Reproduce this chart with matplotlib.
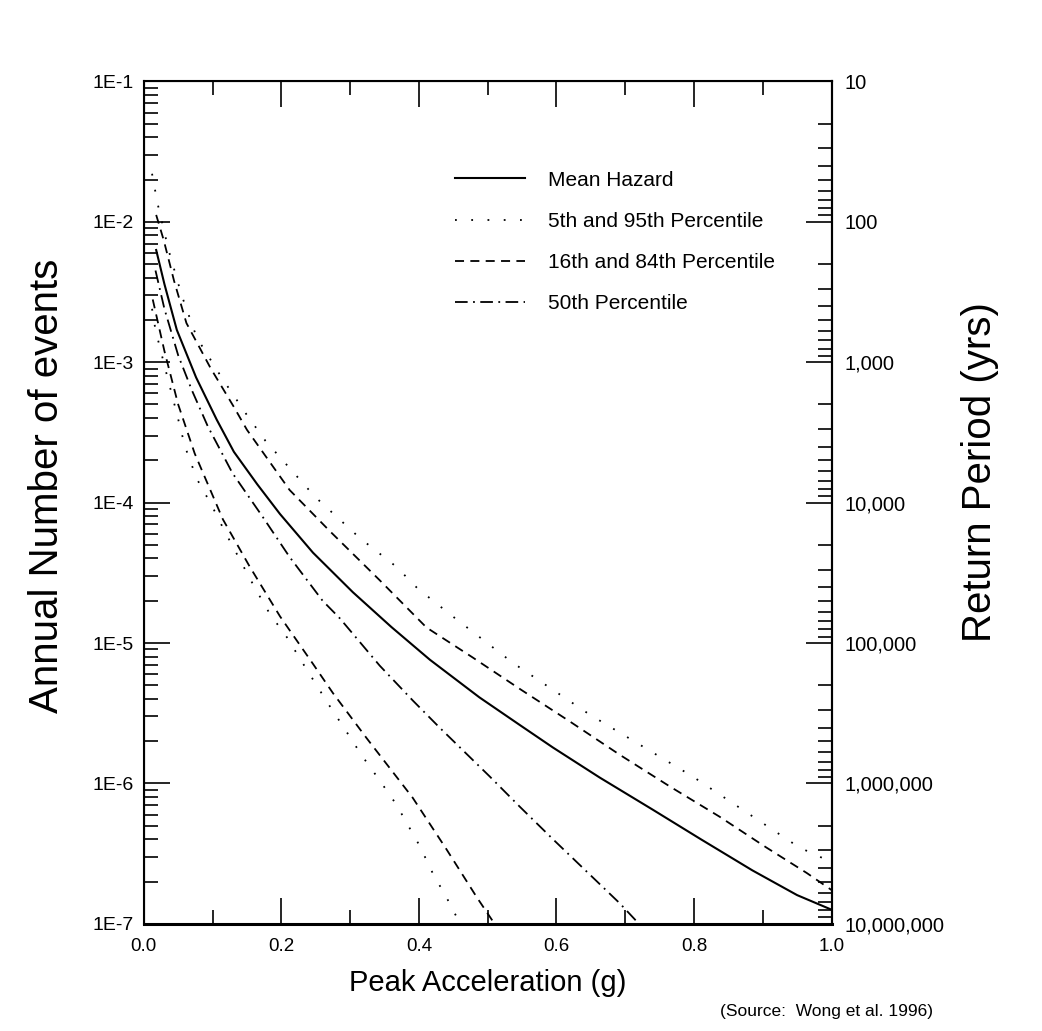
"""
Seismic hazard curves - mean and percentile annual exceedance
"""

import numpy as np
import matplotlib
matplotlib.use("Agg")
import matplotlib.pyplot as plt
from matplotlib.ticker import FixedLocator, FixedFormatter, LogLocator, NullFormatter

plt.rcParams["font.family"] = ["Liberation Sans", "DejaVu Sans"]

# ---------------------------------------
# Data
# ---------------------------------------

mean_x = [0.018, 0.030, 0.048, 0.076, 0.106, 0.131, 0.165, 0.198, 0.246, 0.304,
          0.360, 0.416, 0.488, 0.547, 0.595, 0.663, 0.740, 0.810, 0.885, 0.950, 1.000]
mean_y = [6.3e-3, 3.6e-3, 1.7e-3, 7.8e-4, 3.9e-4, 2.3e-4, 1.35e-4, 8.3e-5, 4.4e-5, 2.3e-5,
          1.3e-5, 7.6e-6, 4.1e-6, 2.6e-6, 1.8e-6, 1.1e-6, 6.5e-7, 4.0e-7, 2.4e-7, 1.6e-7, 1.26e-7]

p95_x = [0.012, 0.020, 0.026, 0.036, 0.055, 0.077, 0.113, 0.150, 0.177, 0.249,
         0.314, 0.367, 0.398, 0.449, 0.537, 0.648, 0.798, 0.953, 1.000]
p95_y = [2.2e-2, 1.35e-2, 1.02e-2, 6.3e-3, 3.0e-3, 1.5e-3, 7.8e-4, 4.2e-4, 2.75e-4, 1.1e-4,
         5.6e-5, 3.5e-5, 2.45e-5, 1.55e-5, 7.2e-6, 3.1e-6, 1.12e-6, 3.5e-7, 2.75e-7]

p84_x = [0.018, 0.029, 0.044, 0.062, 0.097, 0.131, 0.150, 0.212, 0.270, 0.343,
         0.411, 0.478, 0.547, 0.620, 0.692, 0.765, 0.837, 0.905, 0.964, 1.000]
p84_y = [1.12e-2, 7.4e-3, 3.8e-3, 1.9e-3, 9.1e-4, 4.8e-4, 3.3e-4, 1.23e-4, 6.3e-5, 2.8e-5,
         1.29e-5, 7.9e-6, 4.7e-6, 2.75e-6, 1.6e-6, 9.5e-7, 5.8e-7, 3.5e-7, 2.3e-7, 1.74e-7]

p50_x = [0.017, 0.030, 0.050, 0.070, 0.093, 0.129, 0.173, 0.212, 0.260, 0.285,
         0.343, 0.391, 0.430, 0.503, 0.547, 0.595, 0.692, 0.720]
p50_y = [4.5e-3, 2.4e-3, 1.12e-3, 6.3e-4, 3.5e-4, 1.62e-4, 7.9e-5, 4.1e-5, 2.0e-5, 1.5e-5,
         6.9e-6, 3.9e-6, 2.5e-6, 1.12e-6, 6.8e-7, 4.0e-7, 1.4e-7, 1.0e-7]

p16_x = [0.013, 0.030, 0.050, 0.074, 0.115, 0.154, 0.198, 0.246, 0.275, 0.324,
         0.391, 0.440, 0.484, 0.510]
p16_y = [2.8e-3, 1.2e-3, 5.0e-4, 2.24e-4, 7.6e-5, 3.5e-5, 1.55e-5, 7.1e-6, 4.4e-6, 2.1e-6,
         7.9e-7, 3.4e-7, 1.55e-7, 1.0e-7]

p5_x = [0.012, 0.017, 0.033, 0.047, 0.060, 0.077, 0.099, 0.118, 0.140, 0.161, 0.183,
        0.208, 0.231, 0.268, 0.292, 0.317, 0.343, 0.367, 0.401, 0.420, 0.442, 0.460]
p5_y = [2.4e-3, 1.7e-3, 8.3e-4, 4.5e-4, 2.5e-4, 1.48e-4, 9.5e-5, 6.2e-5, 3.9e-5, 2.5e-5, 1.62e-5,
        1.1e-5, 7.2e-6, 3.7e-6, 2.45e-6, 1.58e-6, 1.05e-6, 7.1e-7, 3.6e-7, 2.3e-7, 1.48e-7, 1.0e-7]

left_ticks = [1e-7, 1e-6, 1e-5, 1e-4, 1e-3, 1e-2, 1e-1]
left_labels = ["1E-7", "1E-6", "1E-5", "1E-4", "1E-3", "1E-2", "1E-1"]

right_ticks = [10, 100, 1000, 10000, 100000, 1000000, 10000000]
right_labels = ["10", "100", "1,000", "10,000", "100,000", "1,000,000", "10,000,000"]

x_ticks = [0.0, 0.2, 0.4, 0.6, 0.8, 1.0]
x_labels = ["0.0", "0.2", "0.4", "0.6", "0.8", "1.0"]

# ---------------------------------------
# Plot
# ---------------------------------------

fig = plt.figure(figsize=(10.42, 10.31), dpi=100)
ax = fig.add_axes([0.138, 0.104, 0.660, 0.817])

lw = 1.3
dot = (1, 8)
dash = (5, 3.5)
dashdot = (7, 3, 1, 3)

ax.plot(mean_x, mean_y, color="black", lw=1.5, label="Mean Hazard")
ax.plot(p95_x, p95_y, color="black", lw=lw, dashes=dot, label="5th and 95th Percentile")
ax.plot(p5_x, p5_y, color="black", lw=lw, dashes=dot)
ax.plot(p84_x, p84_y, color="black", lw=lw, dashes=dash, label="16th and 84th Percentile")
ax.plot(p16_x, p16_y, color="black", lw=lw, dashes=dash)
ax.plot(p50_x, p50_y, color="black", lw=lw, dashes=dashdot, label="50th Percentile")

ax.set_yscale("log")
ax.set_xlim(0, 1)
ax.set_ylim(1e-7, 1e-1)

ax.yaxis.set_major_locator(FixedLocator(left_ticks))
ax.yaxis.set_major_formatter(FixedFormatter(left_labels))
ax.yaxis.set_minor_locator(LogLocator(base=10, subs=np.arange(2, 10) * 1.0, numticks=100))
ax.yaxis.set_minor_formatter(NullFormatter())

ax.xaxis.set_major_locator(FixedLocator(x_ticks))
ax.xaxis.set_major_formatter(FixedFormatter(x_labels))
ax.xaxis.set_minor_locator(FixedLocator([0.1, 0.3, 0.5, 0.7, 0.9]))

ax.tick_params(which="major", direction="in", length=19, width=1.2,
               top=True, right=False)
ax.tick_params(which="minor", direction="in", length=10, width=1.2,
               top=True, right=False)
ax.tick_params(axis="y", labelsize=14, pad=7)
ax.tick_params(axis="x", labelsize=13.5, pad=10)

for side in ["left", "right", "top"]:
    ax.spines[side].set_linewidth(1.5)
ax.spines["bottom"].set_linewidth(2.2)

ax.set_xlabel("Peak Acceleration (g)", fontsize=21, labelpad=10)
ax.set_ylabel("Annual Number of events", fontsize=29)
ax.yaxis.set_label_coords(-0.113, 0.52)

# return period axis
ax2 = ax.twinx()
ax2.set_yscale("log")
ax2.set_ylim(1e7, 10)
ax2.yaxis.set_major_locator(FixedLocator(right_ticks))
ax2.yaxis.set_major_formatter(FixedFormatter(right_labels))
ax2.yaxis.set_minor_locator(LogLocator(base=10, subs=np.arange(2, 10) * 1.0, numticks=100))
ax2.yaxis.set_minor_formatter(NullFormatter())
ax2.tick_params(which="major", direction="in", length=19, width=1.2, labelsize=14.5, pad=9)
ax2.tick_params(which="minor", direction="in", length=10, width=1.2)
ax2.spines["right"].set_linewidth(1.5)
ax2.set_ylabel("Return Period (yrs)", fontsize=29)
ax2.yaxis.set_label_coords(1.189, 0.536)

ax.legend(
    loc="upper left",
    bbox_to_anchor=(0.452, 0.894),
    frameon=False,
    fontsize=15,
    handlelength=3.4,
    handletextpad=1.1,
    labelspacing=1.06,
    borderpad=0,
    borderaxespad=0
)

fig.text(0.691, 0.019, "(Source:  Wong et al. 1996)", fontsize=12.5, va="center")

plt.savefig("out.png", dpi=100)
plt.close()
